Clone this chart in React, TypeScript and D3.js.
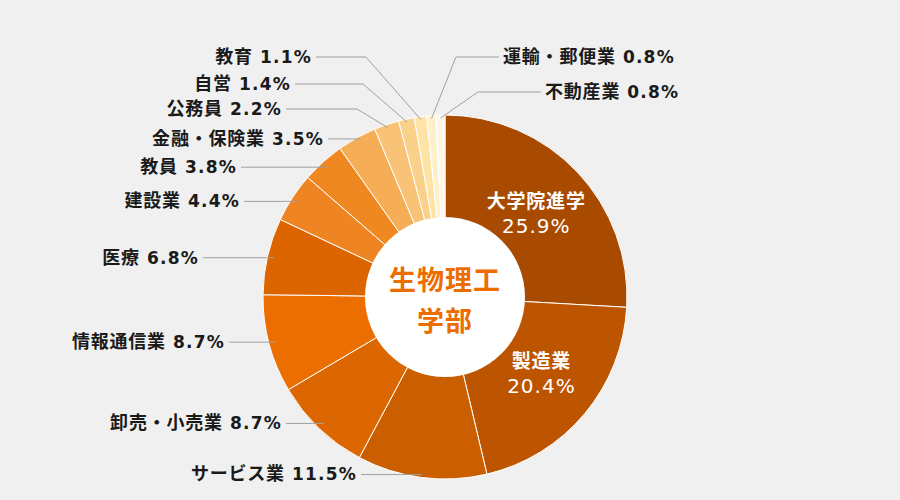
import React from "react";
import * as d3 from "d3";

const categories = [
  "大学院進学", "製造業", "サービス業", "卸売・小売業", "情報通信業", "医療",
  "建設業", "教員", "金融・保険業", "公務員", "自営", "教育", "運輸・郵便業", "不動産業",
];
const values = [25.9, 20.4, 11.5, 8.7, 8.7, 6.8, 4.4, 3.8, 3.5, 2.2, 1.4, 1.1, 0.8, 0.8];
const colors = [
  "#a84b00", "#bd5500", "#cb5f00", "#dc6600", "#ec6d00", "#dc6500",
  "#ee8422", "#f08822", "#f5ae56", "#f8c377", "#fad18b", "#fde3a5", "#fff0cc", "#fff6e6",
];
const centerTitle = ["生物理工", "学部"];

// label layout: "in" = inside slice, "h" = horizontal leader, "e" = elbow leader
type Lay = { mode: "in" | "h" | "e"; side?: number; tx?: number; ty?: number; ex?: number; dx?: number; dy?: number };
const layout: Lay[] = [
  { mode: "in", dx: -4, dy: 1 },
  { mode: "in", dx: -4, dy: -13 },
  { mode: "h", side: -1, tx: 357, dy: 4 },
  { mode: "h", side: -1, tx: 282 },
  { mode: "h", side: -1, tx: 225 },
  { mode: "h", side: -1, tx: 199 },
  { mode: "h", side: -1, tx: 240 },
  { mode: "h", side: -1, tx: 237 },
  { mode: "h", side: -1, tx: 324, dy: -5 },
  { mode: "e", side: -1, tx: 282, ty: 109, ex: 357 },
  { mode: "e", side: -1, tx: 291, ty: 84, ex: 363 },
  { mode: "e", side: -1, tx: 312, ty: 57, ex: 366 },
  { mode: "e", side: 1, tx: 503, ty: 57, ex: 456 },
  { mode: "e", side: 1, tx: 545, ty: 92, ex: 478 },
];

const W = 900, H = 500;
const cx = 445, cy = 297;
const R = 182, r0 = 80;
const FONT = "'DejaVu Sans', 'Noto Sans CJK JP', sans-serif";

export default function App() {
  const data = categories.map((c, i) => ({ c, v: values[i], i }));
  const pie = d3.pie<any>().value((d) => d.v).sort(null);
  const arcs = pie(data);
  const arc = d3.arc<any>().innerRadius(0).outerRadius(R);
  const labelArc = d3.arc<any>().innerRadius(r0).outerRadius(R);

  const pt = (a: number, rr: number) => [cx + rr * Math.sin(a), cy - rr * Math.cos(a)];

  const Label = (props: { x: number; y: number; anchor: string; i: number }) => (
    <text x={props.x} y={props.y} dy="0.36em" textAnchor={props.anchor} fill="#1a1a1a" fontWeight={700}>
      <tspan fontFamily="'Noto Sans CJK JP', sans-serif" fontSize={18} letterSpacing={0.8}>{categories[props.i]}</tspan>
      <tspan fontSize={17} letterSpacing={1.2}>{` ${values[props.i]}%`}</tspan>
    </text>
  );

  return (
    <svg width={W} height={H} style={{ position: "absolute", left: 0, top: 0 }} fontFamily={FONT}>
      <rect width={W} height={H} fill="#f0f0f0" />
      <g transform={`translate(${cx},${cy})`}>
        {arcs.map((a, i) => (
          <path key={i} d={arc(a) as string} fill={colors[i]} stroke="#ffffff" strokeWidth={1} />
        ))}
      </g>
      <circle cx={cx} cy={cy} r={r0} fill="#ffffff" />
      {arcs.map((a, i) => {
        const L = layout[i];
        const mid = (a.startAngle + a.endAngle) / 2;
        if (L.mode === "in") {
          const [x, y] = labelArc.centroid(a);
          const X = cx + x + (L.dx || 0);
          const Y = cy + y + (L.dy || 0);
          return (
            <g key={i} fill="#ffffff" textAnchor="middle">
              <text x={X} y={Y} fontSize={19} fontWeight={700} letterSpacing={0.8} fontFamily="'Noto Sans CJK JP', sans-serif">{categories[i]}</text>
              <text x={X} y={Y + 25} fontSize={20} fontWeight={400} letterSpacing={1}>{values[i]}%</text>
            </g>
          );
        }
        if (L.mode === "h") {
          const [ax, ay0] = pt(mid, 175);
          const ay = ay0 + (L.dy || 0);
          return (
            <g key={i}>
              <line x1={L.tx! + 4} y1={ay} x2={ax} y2={ay} stroke="#a0a0a0" strokeWidth={1} />
              <Label x={L.tx!} y={ay} anchor="end" i={i} />
            </g>
          );
        }
        const [ax, ay] = pt(mid, 179);
        const start = L.side! < 0 ? L.tx! + 4 : L.tx! - 4;
        return (
          <g key={i}>
            <polyline points={`${start},${L.ty} ${L.ex},${L.ty} ${ax},${ay}`} fill="none" stroke="#a0a0a0" strokeWidth={1} />
            <Label x={L.tx!} y={L.ty!} anchor={L.side! < 0 ? "end" : "start"} i={i} />
          </g>
        );
      })}
      {centerTitle.map((t, k) => (
        <text key={k} x={cx} y={cy - 7 + k * 41} textAnchor="middle" fontSize={27} fontWeight={700} letterSpacing={1} fill="#ec6d00" fontFamily="'Noto Sans CJK JP', sans-serif">{t}</text>
      ))}
    </svg>
  );
}
